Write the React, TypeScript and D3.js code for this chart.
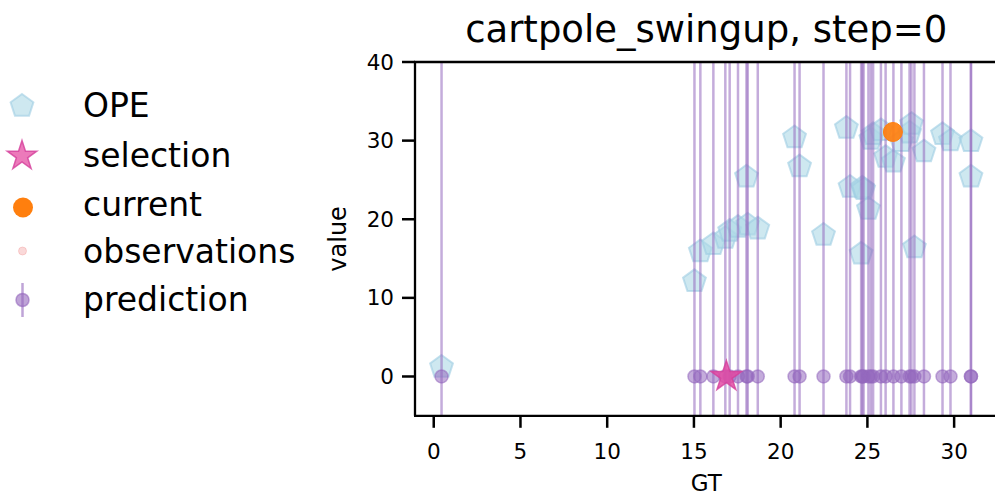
import React from "react";
import * as d3 from "d3";

// Policies: ground-truth return (GT) and off-policy estimate (OPE)
const policyGT = [0.45, 15.03, 15.37, 16.12, 16.81, 17.06, 17.54, 18.03, 18.1, 18.68, 20.8, 21.09, 22.47, 23.79, 24.0, 24.64, 24.71, 24.78, 25.06, 25.2, 25.33, 25.78, 26.05, 26.5, 26.96, 27.43, 27.54, 27.71, 28.26, 29.33, 29.79, 30.97, 30.97];
const opeValue = [1.2, 12.1, 15.9, 16.8, 17.6, 18.5, 19.0, 25.4, 19.3, 18.8, 30.4, 26.7, 18.0, 31.6, 24.1, 15.6, 24.0, 23.8, 21.3, 30.2, 30.8, 31.3, 27.9, 27.3, 29.9, 31.0, 32.1, 16.4, 28.6, 30.8, 30.0, 29.9, 25.4];
// Model prediction per policy (mean and std of the error bar)
const predictionMean = [0, 0, 0, 0, 0, 0, 0, 0, 0, 0, 0, 0, 0, 0, 0, 0, 0, 0, 0, 0, 0, 0, 0, 0, 0, 0, 0, 0, 0, 0, 0, 0, 0];
const predictionStd = [60, 60, 60, 60, 60, 60, 60, 60, 60, 60, 60, 60, 60, 60, 60, 60, 60, 60, 60, 60, 60, 60, 60, 60, 60, 60, 60, 60, 60, 60, 60, 60, 60];
// Selected policy and current policy
const selectionGT = [16.87];
const selectionValue = [0];
const currentGT = [26.47];
const currentValue = [31.1];
// Observations gathered so far (none at step 0)
const observationGT: number[] = [];
const observationValue: number[] = [];

const xTicks = [0, 5, 10, 15, 20, 25, 30];
const yTicks = [0, 10, 20, 30, 40];
const legendLabels = ["OPE", "selection", "current", "observations", "prediction"];

const W = 995;
const H = 496;
const left = 415;
const right = 997.5;
const top = 62;
const bottom = 415.8;

const FONT = "DejaVu Sans, sans-serif";
const PURPLE = "#9467bd";
const BLUE = "#add8e6";
const ORANGE = "#ff7f0e";
const PINK = "#e24aa3";

function polygonPath(cx: number, cy: number, r: number, n: number, inner?: number) {
  const pts: [number, number][] = [];
  const count = inner ? n * 2 : n;
  for (let i = 0; i < count; i++) {
    const a = -Math.PI / 2 + (i * 2 * Math.PI) / count;
    const rr = inner && i % 2 === 1 ? r * inner : r;
    pts.push([cx + rr * Math.cos(a), cy + rr * Math.sin(a)]);
  }
  return d3.line()(pts) + "Z";
}

export default function App() {
  const x = d3.scaleLinear().domain([-1.08, 32.5]).range([left, right]);
  const y = d3.scaleLinear().domain([-5, 40]).range([bottom, top]);

  const legendY = [106, 156, 207.5, 251, 300];
  const legendTextY = [117, 167, 216, 263, 311];

  return (
    <svg width={W} height={H} style={{ position: "absolute", left: 0, top: 0, background: "#fff" }}>
      <defs>
        <clipPath id="plotClip">
          <rect x={left} y={top} width={right - left} height={bottom - top} />
        </clipPath>
      </defs>

      {/* title */}
      <text x={(left + right) / 2} y={42} fontFamily={FONT} fontSize={37} textAnchor="middle" fill="#000">
        cartpole_swingup, step=0
      </text>

      <g clipPath="url(#plotClip)">
        {/* OPE estimates */}
        {policyGT.map((g, i) => (
          <path
            key={"ope" + i}
            d={polygonPath(x(g), y(opeValue[i]), 12, 5)}
            fill={BLUE}
            fillOpacity={0.6}
            stroke="#9fcde3"
            strokeOpacity={0.6}
            strokeWidth={2}
          />
        ))}
        {/* observations */}
        {observationGT.map((g, i) => (
          <circle key={"obs" + i} cx={x(g)} cy={y(observationValue[i])} r={4} fill="#f08080" fillOpacity={0.3} />
        ))}
        {/* prediction error bars */}
        {policyGT.map((g, i) => (
          <line
            key={"err" + i}
            x1={x(g)}
            x2={x(g)}
            y1={y(predictionMean[i] - predictionStd[i])}
            y2={y(predictionMean[i] + predictionStd[i])}
            stroke={PURPLE}
            strokeOpacity={0.55}
            strokeWidth={2.5}
          />
        ))}
        {policyGT.map((g, i) => (
          <circle
            key={"pred" + i}
            cx={x(g)}
            cy={y(predictionMean[i])}
            r={6.5}
            fill={PURPLE}
            fillOpacity={0.55}
            stroke={PURPLE}
            strokeOpacity={0.55}
            strokeWidth={1.5}
          />
        ))}
        {/* selection */}
        {selectionGT.map((g, i) => (
          <path
            key={"sel" + i}
            d={polygonPath(x(g), y(selectionValue[i]), 16, 5, 0.382)}
            fill={PINK}
            fillOpacity={0.85}
            stroke="#d43f9b"
            strokeWidth={1.5}
            strokeOpacity={0.8}
          />
        ))}
        {/* current */}
        {currentGT.map((g, i) => (
          <circle key={"cur" + i} cx={x(g)} cy={y(currentValue[i])} r={9.5} fill={ORANGE} fillOpacity={0.92} stroke={ORANGE} strokeWidth={1} />
        ))}
      </g>

      {/* spines */}
      <line x1={left} x2={left} y1={top} y2={bottom} stroke="#000" strokeWidth={2.3} />
      <line x1={left - 1} x2={W} y1={bottom} y2={bottom} stroke="#000" strokeWidth={2.3} />
      <line x1={left - 1} x2={W} y1={top} y2={top} stroke="#000" strokeWidth={2.3} />

      {/* y ticks */}
      {yTicks.map((t) => (
        <g key={"yt" + t}>
          <line x1={left - 13} x2={left} y1={y(t)} y2={y(t)} stroke="#000" strokeWidth={2.5} />
          <text x={left - 21} y={y(t) + 7.5} fontFamily={FONT} fontSize={21.5} textAnchor="end" fill="#000">
            {t}
          </text>
        </g>
      ))}
      {/* x ticks */}
      {xTicks.map((t) => (
        <g key={"xt" + t}>
          <line x1={x(t)} x2={x(t)} y1={bottom} y2={bottom + 12} stroke="#000" strokeWidth={2.5} />
          <text x={x(t)} y={459} fontFamily={FONT} fontSize={21.5} textAnchor="middle" fill="#000">
            {t}
          </text>
        </g>
      ))}

      {/* axis labels */}
      <text x={(left + right) / 2} y={491} fontFamily={FONT} fontSize={23} textAnchor="middle" fill="#000">
        GT
      </text>
      <text
        transform={`translate(346, ${(top + bottom) / 2}) rotate(-90)`}
        fontFamily={FONT}
        fontSize={24}
        textAnchor="middle"
        fill="#000"
      >
        value
      </text>

      {/* legend */}
      <g>
        <path d={polygonPath(22, legendY[0], 12, 5)} fill={BLUE} fillOpacity={0.6} stroke="#9fcde3" strokeOpacity={0.6} strokeWidth={2} />
        <path d={polygonPath(22, legendY[1], 15.5, 5, 0.382)} fill="#ea6bb3" fillOpacity={0.9} stroke="#d43f9b" strokeWidth={1.5} strokeOpacity={0.8} />
        <circle cx={23} cy={legendY[2]} r={10} fill={ORANGE} />
        <circle cx={22.5} cy={legendY[3]} r={4} fill="#f08080" fillOpacity={0.3} stroke="#f08080" strokeOpacity={0.3} />
        <line x1={22.5} x2={22.5} y1={legendY[4] - 17} y2={legendY[4] + 17} stroke={PURPLE} strokeOpacity={0.6} strokeWidth={2.5} />
        <circle cx={22.5} cy={legendY[4]} r={6.5} fill={PURPLE} fillOpacity={0.6} stroke={PURPLE} strokeOpacity={0.6} strokeWidth={1.5} />
        {legendLabels.map((l, i) => (
          <text key={l} x={83} y={legendTextY[i]} fontFamily={FONT} fontSize={33} fill="#000">
            {l}
          </text>
        ))}
      </g>
    </svg>
  );
}
